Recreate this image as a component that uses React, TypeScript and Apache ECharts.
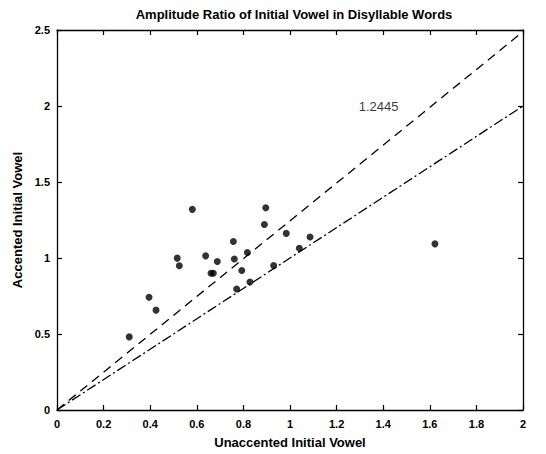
import React, { useEffect, useRef } from "react";
import * as echarts from "echarts";

const titleText = "Amplitude Ratio of Initial Vowel in Disyllable Words";
const xName = "Unaccented Initial Vowel";
const yName = "Accented Initial Vowel";

const unaccented = [0.581, 0.896, 0.89, 0.757, 0.984, 1.086, 1.04, 0.93, 0.817, 0.761, 0.793, 0.828, 0.771, 0.688, 0.638, 0.661, 0.671, 0.516, 0.525, 0.395, 0.425, 0.31, 1.622];
const accented = [1.32, 1.33, 1.22, 1.108, 1.162, 1.138, 1.064, 0.95, 1.036, 0.994, 0.918, 0.842, 0.796, 0.977, 1.014, 0.9, 0.9, 0.999, 0.949, 0.742, 0.657, 0.481, 1.093];

const slopeFit = 1.2445;
const slopeUnit = 1;
const lineXs = [0, 2];
const fitLabel = "1.2445";
const fitLabelPos = [1.38, 2.0];

const font = "'Liberation Sans', Arial, sans-serif";

export default function App() {
  const ref = useRef<HTMLDivElement>(null);
  useEffect(() => {
    if (!ref.current) return;
    const chart = echarts.init(ref.current, null, { renderer: "svg" });
    const pts = unaccented.map((x, i) => [x, accented[i]]);
    const axisCommon = {
      type: "value",
      axisLine: { show: true, onZero: false, lineStyle: { color: "#000", width: 1.3 } },
      axisTick: { show: true, inside: true, length: 5, lineStyle: { color: "#000", width: 1.2 } },
      splitLine: { show: false },
    };
    const labelStyle = { fontFamily: font, fontSize: 11, fontWeight: "bold", color: "#000" };
    chart.setOption({
      animation: false,
      backgroundColor: "#fff",
      title: {
        text: titleText,
        left: 289,
        textAlign: "center",
        top: 3,
        textStyle: { fontFamily: font, fontSize: 13, fontWeight: "bold", color: "#000" },
      },
      grid: { left: 57, right: 23, top: 30, bottom: 41 },
      xAxis: [
        {
          ...axisCommon,
          min: 0,
          max: 2,
          interval: 0.2,
          position: "bottom",
          name: xName,
          nameLocation: "middle",
          nameGap: 26,
          nameTextStyle: { fontFamily: font, fontSize: 13, fontWeight: "bold", color: "#000" },
          axisLabel: {
            ...labelStyle,
            margin: 8,
            formatter: (v: number) => String(Math.round(v * 10) / 10),
          },
        },
        {
          ...axisCommon,
          min: 0,
          max: 2,
          interval: 0.2,
          position: "top",
          axisLabel: { show: false },
        },
      ],
      yAxis: [
        {
          ...axisCommon,
          min: 0,
          max: 2.5,
          interval: 0.5,
          position: "left",
          name: yName,
          nameLocation: "middle",
          nameGap: 29,
          nameTextStyle: { fontFamily: font, fontSize: 13, fontWeight: "bold", color: "#000" },
          axisLabel: { ...labelStyle, margin: 7 },
        },
        {
          ...axisCommon,
          min: 0,
          max: 2.5,
          interval: 0.5,
          position: "right",
          axisLabel: { show: false },
        },
      ],
      series: [
        {
          type: "line",
          data: lineXs.map((x) => [x, slopeFit * x]),
          symbol: "none",
          lineStyle: { color: "#000", width: 1.3, type: [9, 6] },
          z: 2,
        },
        {
          type: "line",
          data: lineXs.map((x) => [x, slopeUnit * x]),
          symbol: "none",
          lineStyle: { color: "#000", width: 1.3, type: [10, 3, 2, 3] },
          z: 2,
        },
        {
          type: "scatter",
          data: pts,
          symbol: "circle",
          symbolSize: 7,
          itemStyle: { color: "#000" },
          z: 3,
        },
        {
          type: "scatter",
          data: [fitLabelPos],
          symbolSize: 0,
          label: {
            show: true,
            position: "inside",
            formatter: fitLabel,
            fontFamily: font,
            fontSize: 13,
            color: "#000",
          },
          z: 4,
        },
      ],
    });
    return () => chart.dispose();
  }, []);
  return (
    <div
      ref={ref}
      style={{ position: "absolute", left: 0, top: 0, width: 546, height: 454 }}
    />
  );
}
